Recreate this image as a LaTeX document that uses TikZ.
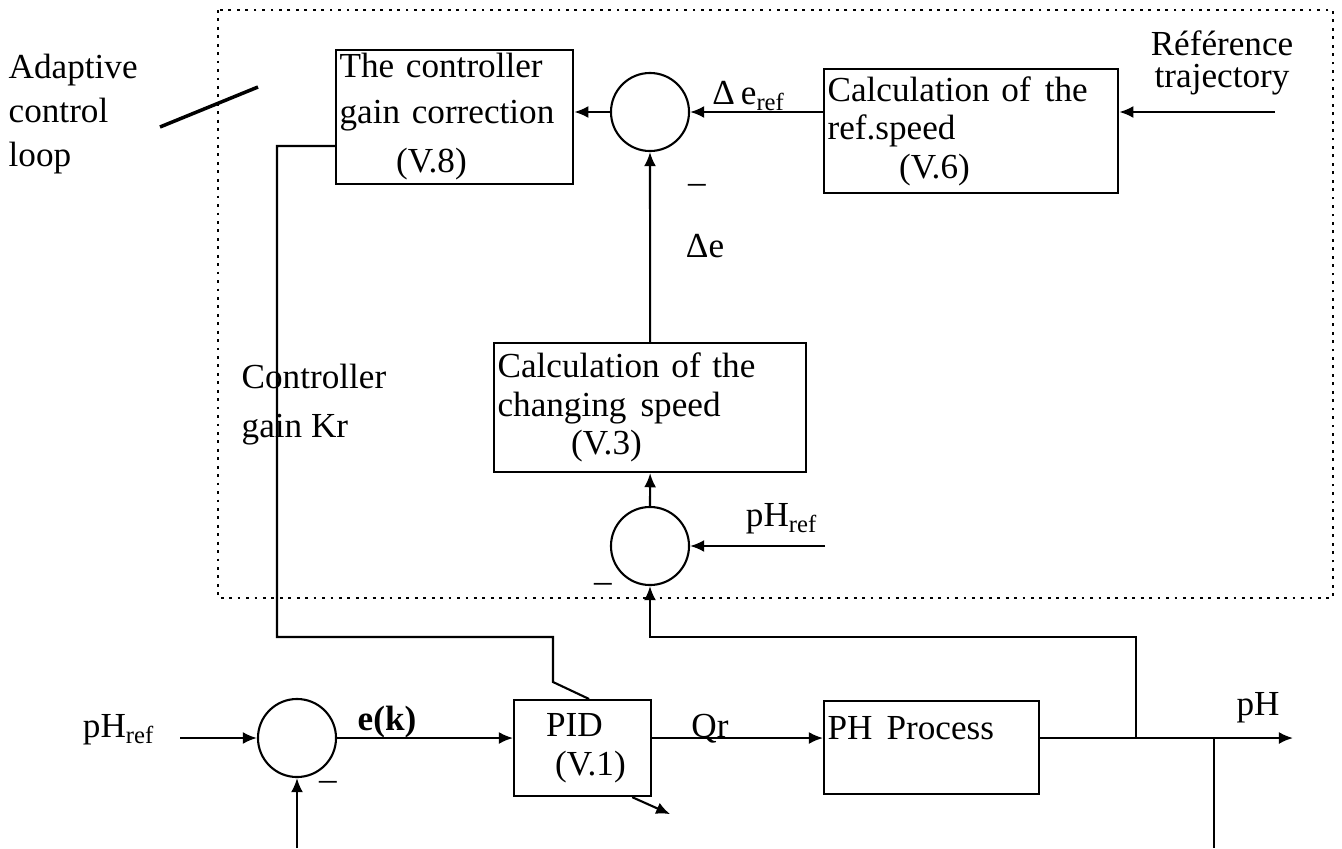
\documentclass[tikz,border=0pt]{standalone}
\usepackage{fontspec}
\setmainfont{Liberation Serif}
\usepackage{tikz}
\usetikzlibrary{arrows.meta,positioning,calc}
\tikzset{
  calcbox/.style={
    rectangle, draw, line width=0.6pt, anchor=north west,
    align=left, inner xsep=1pt, inner ysep=1pt,
    text width=#1
  },
  sumnode/.style={
    circle, draw, line width=0.6pt,
    minimum size=0.78cm, inner sep=0pt
  },
  sigarrow/.style={
    -{Latex[length=4pt, width=3.4pt]}, line width=0.6pt
  },
  sigline/.style={line width=0.6pt},
  loopframe/.style={dash pattern=on 0.8pt off 1.6pt, line width=0.6pt},
  labelnode/.style={inner sep=0pt, align=left},
}

\begin{document}
\begin{tikzpicture}[x=0.01cm, y=-0.01cm, font=\fontsize{10}{11}\selectfont]
  \useasboundingbox (0,0) rectangle (1342,848);

  % Adaptive loop frame
  \draw[loopframe] (218,10) rectangle (1333,598);
  \node[labelnode, anchor=north west, font=\fontsize{10}{12.5}\selectfont] (adtext) at (8,53) {Adaptive\\control\\loop};
  \coordinate (adA) at (160,127);
  \coordinate (adB) at (258,87);
  \draw[line width=1pt] (adA) -- (adB);

  % Upper blocks
  \node[calcbox=2.30cm, minimum height=1.33cm] (gain) at (335,49) {The controller\\[2pt]gain correction\\[3pt]\hspace*{0.565cm}(V.8)};
  \node[sumnode] (sum1) at (650,112) {};
  \node[calcbox=2.87cm, minimum height=1.24cm] (refspd) at (823,68) {Calculation of\hspace{4pt}the\\ref.speed\\\hspace*{0.715cm}(V.6)};
  \node[calcbox=3.05cm, minimum height=1.29cm] (chgspd) at (493,342) {Calculation of the\\changing\hspace{4pt}speed\\\hspace*{0.735cm}(V.3)};
  \node[sumnode] (sum2) at (650,546) {};

  % Lower loop
  \node[sumnode] (sum3) at (297,738) {};
  \node[calcbox=1.30cm, minimum height=0.96cm] (pid) at (513,699) {\hspace*{0.285cm}PID\\\hspace*{0.375cm}(V.1)};
  \node[calcbox=2.08cm, minimum height=0.93cm] (proc) at (823,700) {PH\hspace{4pt}Process\\\mbox{}};

  % Free ends
  \coordinate (reftraj) at (1275,112);
  \coordinate (phrefin) at (825,546);
  \coordinate (phrefmain) at (180,738);
  \coordinate (fbbot) at (297,848);
  \coordinate (fbup) at (1136,738);
  \coordinate (fbturn) at (1136,637);
  \coordinate (fbdown) at (1214,738);
  \coordinate (fbend) at (1214,848);
  \coordinate (out) at (1293,738);
  \coordinate (krturn) at (277,637);
  \coordinate (krbend) at (553,637);

  % Connectors, adaptive part
  \draw[sigarrow] (reftraj) -- (reftraj -| refspd.east);
  \draw[sigarrow] (sum1.east -| refspd.west) -- (sum1.east);
  \draw[sigarrow] (sum1.west) -- (sum1.west -| gain.east);
  \draw[sigarrow] (chgspd.north) -- (sum1.south);
  \draw[sigarrow] (sum2.north) -- (chgspd.south);
  \draw[sigarrow] (phrefin) -- (sum2.east);
  \draw[sigarrow] (fbup) -- (fbturn) -| (sum2.south);
  \draw[sigline] ([yshift=-0.29cm]gain.west) -| (krturn) -- (krbend) -- ++(0,45) -- ([xshift=0.065cm]pid.north);

  % Connectors, main loop
  \draw[sigarrow] (phrefmain) -- (sum3.west);
  \draw[sigarrow] (fbbot) -- (sum3.south);
  \draw[sigarrow] (sum3.east) -- (sum3.east -| pid.west);
  \draw[sigarrow] (pid.east |- sum3) -- (proc.west |- sum3);
  \draw[sigarrow] (proc.east |- sum3) -- (out);
  \draw[sigline] (fbdown) -- (fbend);
  \draw[sigarrow] ([xshift=-0.2cm]pid.south east) -- ++(38,17);

  % Labels
  \node[labelnode, align=center, anchor=north, font=\fontsize{10}{9}\selectfont] (reftxt) at (1222,30) {Référence\\trajectory};
  \node[labelnode] (derefl) at (749,96) {Δ\,e\textsubscript{ref}};
  \node[labelnode] (minus1) at (697,189) {–};
  \node[labelnode] (del) at (705,246) {Δe};
  \node[labelnode, anchor=north west] (krl) at (241,363) {Controller\\[3pt]gain Kr};
  \node[labelnode] (phref2) at (782,519) {pH\textsubscript{ref}};
  \node[labelnode] (minus2) at (603,588) {–};
  \node[labelnode] (phref1) at (119,730) {pH\textsubscript{ref}};
  \node[labelnode] (ekl) at (387,722) {\textbf{e(k)}};
  \node[labelnode] (minus3) at (328,786) {–};
  \node[labelnode, anchor=base] (qrl) at (710,737) {Qr};
  \node[labelnode] (phout) at (1258,708) {pH};
\end{tikzpicture}
\end{document}
